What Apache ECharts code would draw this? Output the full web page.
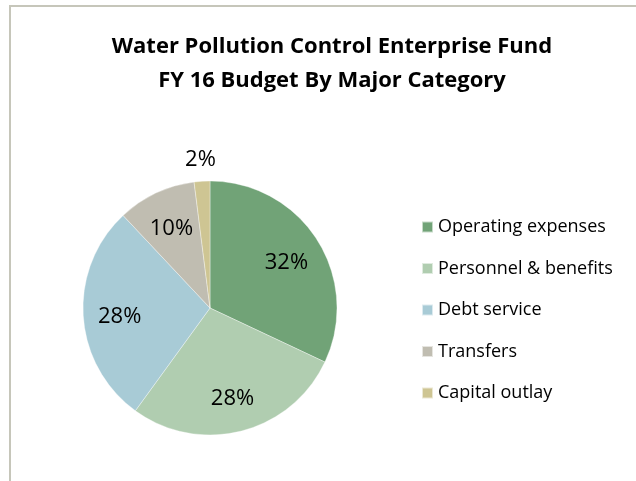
<!DOCTYPE html>
<html>
<head>
<meta charset="utf-8">
<script src="https://cdn.jsdelivr.net/npm/echarts@6/dist/echarts.min.js"></script>
<style>
  html, body { margin: 0; padding: 0; background: #fff; }
  #chart { width: 636px; height: 481px; }
</style>
</head>
<body>
<div id="chart"></div>
<script>
// FY 16 budget split by major category (percent of total)
const categories = ['Operating expenses', 'Personnel & benefits', 'Debt service', 'Transfers', 'Capital outlay'];
const shares = [32, 28, 28, 10, 2];
const sliceColors = ['#71a377', '#b0cdb0', '#a8cbd6', '#c0bdb1', '#cec593'];

const titleLines = ['Water Pollution Control Enterprise Fund', 'FY 16 Budget By Major Category'];

const FONT = '"Open Sans", sans-serif';
const CENTER = [210, 308];
const R = 127;

const pieData = categories.map((name, i) => ({
  name, value: shares[i], itemStyle: { color: sliceColors[i] }
}));

// Invisible ring used only to place the percentage labels well inside the slices
const innerLabelData = categories.map((name, i) => ({
  name, value: shares[i],
  label: { show: shares[i] >= 5 }
}));
// Invisible outer ring for the label of the thin slice
const outerLabelData = categories.map((name, i) => ({
  name, value: shares[i],
  label: { show: shares[i] < 5 }
}));

const labelRingBase = {
  type: 'pie',
  center: CENTER,
  startAngle: 90,
  clockwise: true,
  silent: true,
  animation: false,
  legendHoverLink: false,
  itemStyle: { color: 'rgba(0,0,0,0)', borderWidth: 0 },
  emphasis: { disabled: true },
  labelLine: { show: false },
  avoidLabelOverlap: false,
  label: {
    position: 'inside',
    formatter: p => p.value + '%',
    fontFamily: FONT,
    fontSize: 22,
    color: '#000',
    offset: [0, 3]
  }
};

const chart = echarts.init(document.getElementById('chart'), null, { renderer: 'canvas' });
chart.setOption({
  backgroundColor: '#fff',
  animation: false,
  title: {
    text: titleLines.join('\n'),
    left: 327,
    textAlign: 'center',
    top: 25,
    textStyle: {
      fontFamily: FONT,
      fontWeight: 'bold',
      fontSize: 22,
      lineHeight: 34,
      color: '#000'
    }
  },
  graphic: [{
    type: 'rect',
    shape: { x: 10, y: 6, width: 800, height: 600 },
    style: { fill: 'none', stroke: '#c6c6ba', lineWidth: 2 },
    silent: true
  }],
  legend: {
    orient: 'vertical',
    left: 421,
    top: 217,
    padding: 0,
    data: categories,
    icon: 'rect',
    itemWidth: 11,
    itemHeight: 11,
    itemGap: 21.5,
    selectedMode: false,
    textStyle: { fontFamily: FONT, fontSize: 18, lineHeight: 20, color: '#000', padding: [0, 0, 0, 0] }
  },
  series: [
    {
      type: 'pie',
      name: 'Budget',
      center: CENTER,
      radius: [0, R],
      startAngle: 90,
      clockwise: true,
      data: pieData,
      label: { show: false },
      labelLine: { show: false },
      itemStyle: { borderColor: 'rgba(255,255,255,0.6)', borderWidth: 0.6 }
    },
    Object.assign({}, labelRingBase, { radius: [48, R], data: innerLabelData }),
    Object.assign({}, labelRingBase, { radius: [R, 170], data: outerLabelData })
  ]
});
</script>
</body>
</html>
